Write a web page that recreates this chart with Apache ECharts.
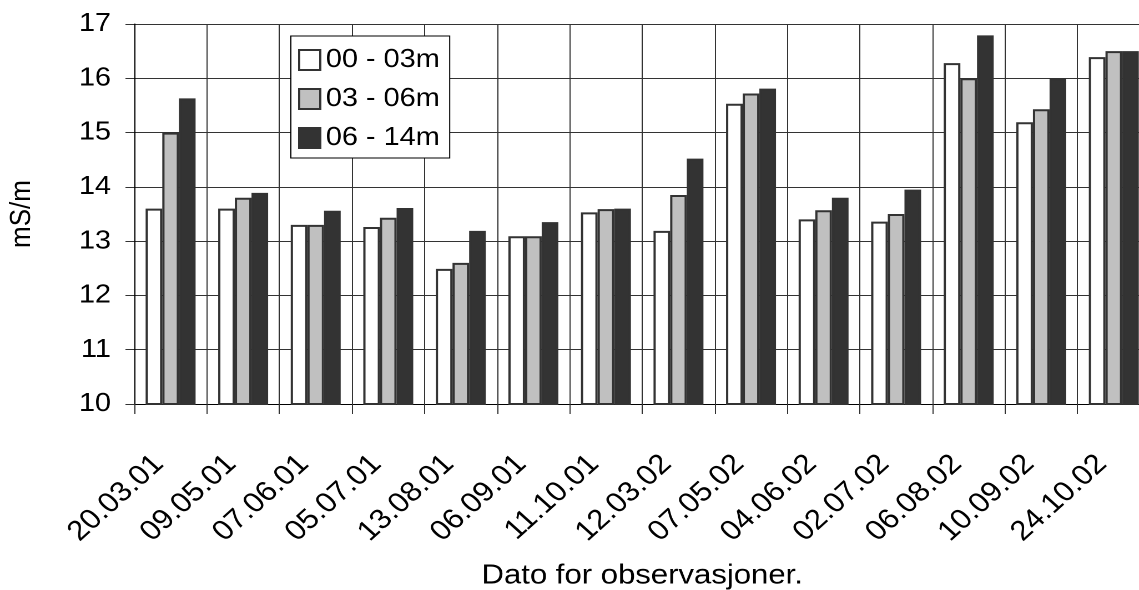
<!DOCTYPE html>
<html>
<head>
<meta charset="utf-8">
<script src="https://cdn.jsdelivr.net/npm/echarts@6/dist/echarts.min.js"></script>
<style>
html,body{margin:0;padding:0;background:#fff;overflow:hidden;width:1139px;height:590px;}
#chart{width:1026px;height:590px;transform:scaleX(1.1101);transform-origin:0 0;}
</style>
</head>
<body>
<div id="chart"></div>
<script>
const categories = ['20.03.01','09.05.01','07.06.01','05.07.01','13.08.01','06.09.01','11.10.01','12.03.02','07.05.02','04.06.02','02.07.02','06.08.02','10.09.02','24.10.02'];
const seriesNames = ['00 - 03m','03 - 06m','06 - 14m'];
const s0003 = [13.6, 13.6, 13.3, 13.26, 12.49, 13.09, 13.53, 13.19, 15.53, 13.4, 13.36, 16.28, 15.19, 16.39];
const s0306 = [15.0, 13.8, 13.3, 13.43, 12.6, 13.09, 13.59, 13.85, 15.72, 13.57, 13.5, 16.0, 15.43, 16.5];
const s0614 = [15.63, 13.89, 13.56, 13.61, 13.19, 13.35, 13.6, 14.52, 15.81, 13.8, 13.95, 16.79, 16.0, 16.5];
const yTicks = [10, 11, 12, 13, 14, 15, 16, 17];

const fills = ['#FFFFFF', '#C0C0C0', '#333333'];
const data = [s0003, s0306, s0614];
const FONT = 'Liberation Sans, Arial, sans-serif';

const chart = echarts.init(document.getElementById('chart'), null, {renderer: 'canvas', devicePixelRatio: 2});
chart.setOption({
  animation: false,
  backgroundColor: '#fff',
  textStyle: {fontFamily: FONT, color: '#000'},
  grid: {left: 121, top: 24, bottom: 186, right: -10, containLabel: false, outerBoundsMode: 'none'},
  legend: {
    data: seriesNames,
    orient: 'vertical',
    left: 262, top: 36,
    padding: [11, 9, 7, 6.5],
    itemWidth: 19, itemHeight: 20, itemGap: 13,
    backgroundColor: '#fff',
    borderColor: '#000', borderWidth: 1,
    textStyle: {fontFamily: FONT, fontSize: 26, color: '#000'},
    icon: 'rect'
  },
  xAxis: {
    type: 'category',
    data: categories,
    name: 'Dato for observasjoner.',
    nameLocation: 'middle',
    nameGap: 158,
    nameTextStyle: {fontFamily: FONT, fontSize: 28, color: '#000'},
    axisLine: {show: true, lineStyle: {color: '#000', width: 1}},
    axisTick: {show: true, alignWithLabel: false, length: 10, lineStyle: {color: '#333'}},
    axisLabel: {rotate: 45, margin: 45, padding: [0, 15, 0, 0], fontFamily: FONT, fontSize: 28, color: '#000', interval: 0},
    splitLine: {show: true, lineStyle: {color: '#333', width: 1}}
  },
  yAxis: {
    type: 'value',
    min: yTicks[0], max: yTicks[yTicks.length - 1], interval: 1,
    name: 'mS/m',
    nameLocation: 'middle',
    nameGap: 88,
    nameRotate: 90,
    nameTextStyle: {fontFamily: FONT, fontSize: 26, color: '#000'},
    axisLine: {show: true, lineStyle: {color: '#000', width: 1}},
    axisTick: {show: true, length: 8, lineStyle: {color: '#333'}},
    axisLabel: {margin: 21, fontFamily: FONT, fontSize: 26, color: '#000'},
    splitLine: {show: true, lineStyle: {color: '#333', width: 1}}
  },
  series: seriesNames.map((n, i) => ({
    name: n,
    type: 'bar',
    data: data[i],
    barWidth: 15,
    barGap: '0%',
    itemStyle: {color: fills[i], borderColor: '#333', borderWidth: 2}
  }))
});
</script>
</body>
</html>
